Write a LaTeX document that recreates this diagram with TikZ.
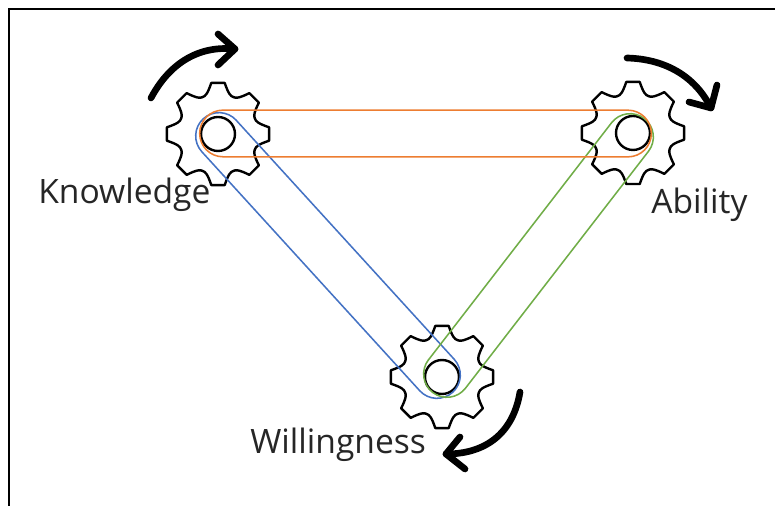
\documentclass[tikz,border=0pt]{standalone}
\usepackage{fontspec}
\setmainfont{Open Sans}
\usetikzlibrary{calc}
\tikzset{
  x=0.75pt,y=0.75pt,
  gearline/.style={draw=black,line width=1.8pt,line join=round,line cap=round},
  hub/.style={circle,draw=black,line width=1.8pt,minimum size=25.5pt,inner sep=0pt,fill=white},
  turn/.style={draw=black,line width=5pt,line cap=round,line join=round},
  lbl/.style={font=\fontsize{25.2}{28}\selectfont,text=black!85,inner sep=0pt},
}
\definecolor{bo}{HTML}{ED7D31}
\definecolor{bb}{HTML}{4472C4}
\definecolor{bg}{HTML}{70AD47}
\newcommand{\gearat}[1]{%
  \foreach \a in {0,45,...,315}{
    \draw[gearline] ($(#1)+({\a-22.5}:40)$)
      .. controls ($(#1)+({\a-18.5}:40)$) and ($(#1)+({\a-15}:41)$) .. ($(#1)+({\a-7.5}:51.5)$)
      -- ($(#1)+({\a+7.5}:51.5)$)
      .. controls ($(#1)+({\a+15}:41)$) and ($(#1)+({\a+18.5}:40)$) .. ($(#1)+({\a+22.5}:40)$);
  }%
}
\newcommand{\capsule}[3]{%
  \draw[#3] let \p1=($(#2)-(#1)$), \n1={atan2(\y1,\x1)} in
    ($(#1)+({\n1+90}:23.3)$) -- ($(#2)+({\n1+90}:23.3)$)
    arc[start angle=\n1+90,delta angle=-180,radius=17.5pt]
    -- ($(#1)+({\n1-90}:23.3)$)
    arc[start angle=\n1-90,delta angle=-180,radius=17.5pt] -- cycle;%
}
\begin{document}
\begin{tikzpicture}
\useasboundingbox (0,0) rectangle (775,506);
\fill[white] (0,0) rectangle (775,506);
\coordinate (frameA) at (9,0);
\coordinate (frameB) at (9,497);
\coordinate (frameC) at (775,497);
\draw[black,line width=1.6pt] (frameA) -- (frameB) -- (frameC);
% gear centres
\coordinate (K) at (218,372);
\coordinate (A) at (633,373);
\coordinate (W) at (442,129);
\gearat{K}\gearat{A}\gearat{W}
\node[hub] (hubK) at (K) {};
\node[hub] (hubA) at (A) {};
\node[hub] (hubW) at (W) {};
% belts
\coordinate (bK) at (219,370);
\coordinate (bW) at (437,131);
\coordinate (gW) at (447,132);
\coordinate (gA) at (630,369);
\coordinate (oK) at (223,372.5);
\coordinate (oA) at (628,372.5);
\capsule{bK}{bW}{draw=bb,line width=1.15pt}
\capsule{gW}{gA}{draw=bg,line width=1.15pt}
\capsule{oK}{oA}{draw=bo,line width=1.15pt}
% turning arrows
\coordinate (k0) at (151,408);
\coordinate (k1) at (235,457);
\coordinate (kb1) at (218,472);
\coordinate (kb2) at (218,441);
\draw[turn] (k0) .. controls (168,440) and (196,461) .. (k1);
\draw[turn] (kb1) -- (k1) -- (kb2);
\coordinate (a0) at (627,448);
\coordinate (a1) at (711,398);
\coordinate (ab1) at (717,421);
\coordinate (ab2) at (689,404);
\draw[turn] (a0) .. controls (665,447) and (695,430) .. (a1);
\draw[turn] (ab1) -- (a1) -- (ab2);
\coordinate (w0) at (520,114);
\coordinate (w1) at (446,52);
\coordinate (wb1) at (460,69);
\coordinate (wb2) at (465,37);
\draw[turn] (w0) .. controls (513,72) and (485,52) .. (w1);
\draw[turn] (wb1) -- (w1) -- (wb2);
% labels
\node[lbl,anchor=base west] (lK) at (38,302) {Knowledge};
\node[lbl,anchor=base west] (lA) at (651,292) {Ability};
\node[lbl,anchor=base west] (lW) at (250,52) {Willingness};
\end{tikzpicture}
\end{document}
